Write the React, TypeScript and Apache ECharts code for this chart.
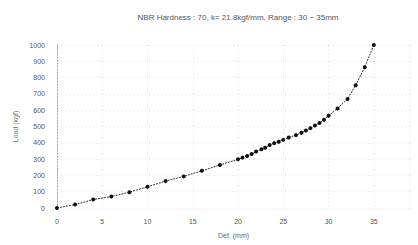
import React, { useEffect, useRef } from "react";
import * as echarts from "echarts";

const titleText = "NBR Hardness : 70, k= 21.8kgf/mm, Range : 30 ~ 35mm";
const xName = "Def. (mm)";
const yName = "Load (kgf)";
const deflection = [0, 2, 4, 6, 8, 10, 12, 14, 16, 18, 20, 20.5, 21, 21.5, 22, 22.6, 23, 23.5, 24, 24.5, 25, 25.6, 26.4, 27, 27.5, 28, 28.5, 29, 29.5, 30, 31, 32.1, 33, 34, 35];
const load = [0, 21, 52, 70, 97, 130, 165, 194, 228, 264, 299, 309, 319, 331, 346, 360, 370, 387, 398, 407, 418, 432, 447, 461, 475, 490, 506, 521, 541, 566, 611, 669, 753, 864, 1000];

export default function App() {
  const ref = useRef<HTMLDivElement>(null);
  useEffect(() => {
    const chart = echarts.init(ref.current!, null, { renderer: "svg" });
    const pts = deflection.map((d, i) => [d, load[i]]);
    chart.setOption({
      animation: false,
      backgroundColor: "#fff",
      title: {
        text: titleText,
        left: 233,
        textAlign: "center",
        top: 8,
        textStyle: { fontSize: 8, fontWeight: "normal", color: "#555", fontFamily: "Liberation Sans" },
      },
      grid: { left: 57, right: 8, top: 45, bottom: 37 },
      xAxis: {
        type: "value",
        min: 0,
        max: 39,
        interval: 5,
        name: xName,
        nameLocation: "middle",
        nameGap: 24,
        nameTextStyle: { fontSize: 7, color: "#666", fontFamily: "Liberation Sans" },
        axisLine: { show: false },
        axisTick: { show: false },
        axisLabel: { fontSize: 7, color: "#555", showMaxLabel: false, fontFamily: "Liberation Sans", margin: 10 },
        splitLine: { show: true, lineStyle: { color: "#ddd", type: [1, 3], width: 1 } },
      },
      yAxis: {
        type: "value",
        min: 0,
        max: 1000,
        interval: 100,
        name: yName,
        nameLocation: "middle",
        nameGap: 36,
        nameTextStyle: { fontSize: 7, color: "#777", fontFamily: "Liberation Sans" },
        axisLine: { show: true, lineStyle: { color: "#999", type: [1, 2] } },
        axisTick: { show: false },
        axisLabel: { fontSize: 7, color: "#555", fontFamily: "Liberation Sans", margin: 12, formatter: (v: number) => String(v) },
        splitLine: { show: true, lineStyle: { color: "#ddd", type: [1, 3], width: 1 } },
      },
      series: [
        {
          type: "line",
          data: pts,
          symbol: "circle",
          symbolSize: 4,
          itemStyle: { color: "#111" },
          lineStyle: { color: "#333", width: 1, type: [2, 1] },
        },
      ],
    });
    return () => chart.dispose();
  }, []);
  return <div ref={ref} style={{ width: 418, height: 245, position: "absolute", left: 0, top: 0 }} />;
}
